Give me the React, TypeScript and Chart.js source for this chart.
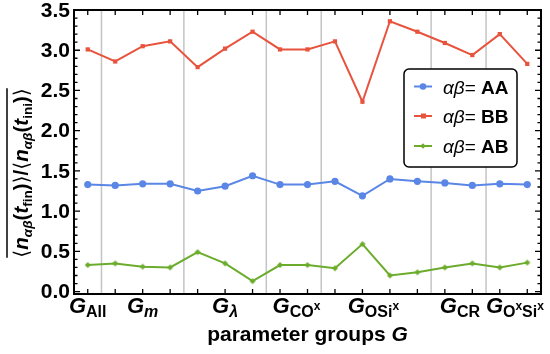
import React, { useEffect, useRef } from "react";
import { Chart, registerables } from "chart.js";

Chart.register(...registerables);

// ---- data ----
const paramIndex = [0, 1, 2, 3, 4, 5, 6, 7, 8, 9, 10, 11, 12, 13, 14, 15, 16];
const seriesAA = [1.33, 1.32, 1.34, 1.34, 1.25, 1.31, 1.44, 1.33, 1.33, 1.37, 1.19, 1.40, 1.37, 1.35, 1.32, 1.34, 1.33];
const seriesBB = [3.01, 2.86, 3.05, 3.11, 2.79, 3.02, 3.23, 3.01, 3.01, 3.11, 2.36, 3.36, 3.23, 3.09, 2.94, 3.20, 2.83];
const seriesAB = [0.33, 0.35, 0.31, 0.30, 0.49, 0.35, 0.13, 0.33, 0.33, 0.29, 0.59, 0.20, 0.24, 0.30, 0.35, 0.30, 0.36];
const groupBoundaries = [0.5, 3.5, 6.5, 8.5, 12.5, 14.5];
const groupCenters = [0, 2, 5, 7.6, 10.4, 13.55, 15.55];
const yTickValues = [0, 0.5, 1, 1.5, 2, 2.5, 3, 3.5];
const yTickLabels = ["0.0", "0.5", "1.0", "1.5", "2.0", "2.5", "3.0", "3.5"];
const legendLabels = ["AA", "BB", "AB"];

const BLUE = "#5a86e6";
const RED = "#e8533e";
const GREEN = "#6cac2c";
const FAM = '"Liberation Sans", Arial, Helvetica, sans-serif';

type Run = { t: string; font: string; dy?: number };

// x tick label runs (G with subscripts / superscripts)
const SUB = `bold 16px ${FAM}`;
const SUBI = `italic bold 16px ${FAM}`;
const SUP = `bold 12px ${FAM}`;
const GF = `italic bold 22px ${FAM}`;
const groupLabelRuns: Run[][] = [
  [{ t: "G", font: GF }, { t: "All", font: SUB, dy: 4 }],
  [{ t: "G", font: GF }, { t: "m", font: SUBI, dy: 4 }],
  [{ t: "G", font: GF }, { t: "λ", font: SUBI, dy: 4 }],
  [{ t: "G", font: GF }, { t: "CO", font: SUB, dy: 4 }, { t: "x", font: SUP, dy: -3 }],
  [{ t: "G", font: GF }, { t: "OSi", font: SUB, dy: 4 }, { t: "x", font: SUP, dy: -3 }],
  [{ t: "G", font: GF }, { t: "CR", font: SUB, dy: 4 }],
  [
    { t: "G", font: GF },
    { t: "O", font: SUB, dy: 4 },
    { t: "x", font: SUP, dy: -3 },
    { t: "Si", font: SUB, dy: 4 },
    { t: "x", font: SUP, dy: -3 },
  ],
];

function runsWidth(ctx: CanvasRenderingContext2D, runs: Run[]) {
  let w = 0;
  for (const r of runs) {
    ctx.font = r.font;
    w += ctx.measureText(r.t).width;
  }
  return w;
}

function drawRuns(ctx: CanvasRenderingContext2D, runs: Run[], x: number, y: number) {
  let cx = x;
  ctx.textAlign = "left";
  ctx.textBaseline = "alphabetic";
  for (const r of runs) {
    ctx.font = r.font;
    ctx.fillText(r.t, cx, y + (r.dy || 0));
    cx += ctx.measureText(r.t).width;
  }
  return cx;
}

const decorPlugin = {
  id: "decor",
  beforeDatasetsDraw(chart: any) {
    const { ctx, chartArea } = chart;
    const xs = chart.scales.x;
    ctx.save();
    ctx.strokeStyle = "#c4c4c4";
    ctx.lineWidth = 1.5;
    for (const b of groupBoundaries) {
      const px = xs.getPixelForValue(b);
      ctx.beginPath();
      ctx.moveTo(px, chartArea.top);
      ctx.lineTo(px, chartArea.bottom);
      ctx.stroke();
    }
    ctx.restore();
  },
  afterDatasetsDraw(chart: any) {
    const { ctx, chartArea } = chart;
    const xs = chart.scales.x;
    const ys = chart.scales.y;
    const { left, right, top, bottom } = chartArea;
    ctx.save();
    ctx.fillStyle = "#000";
    ctx.strokeStyle = "#000";

    // ticks
    ctx.lineWidth = 1.3;
    ctx.beginPath();
    for (const i of paramIndex) {
      const px = xs.getPixelForValue(i);
      ctx.moveTo(px, bottom);
      ctx.lineTo(px, bottom - 5);
      ctx.moveTo(px, top);
      ctx.lineTo(px, top + 5);
    }
    for (let k = 0; k <= 35; k++) {
      const v = k / 10;
      const py = ys.getPixelForValue(v);
      const len = k % 5 === 0 ? 6 : 3.5;
      ctx.moveTo(left, py);
      ctx.lineTo(left + len, py);
      ctx.moveTo(right, py);
      ctx.lineTo(right - len, py);
    }
    ctx.stroke();

    // frame
    ctx.lineWidth = 2;
    ctx.strokeRect(left, top, right - left, bottom - top);

    // y tick labels
    ctx.font = `bold 21px ${FAM}`;
    ctx.textAlign = "right";
    ctx.textBaseline = "middle";
    yTickValues.forEach((v, i) => {
      ctx.fillText(yTickLabels[i], left - 4, ys.getPixelForValue(v) + 1);
    });

    // x tick labels
    groupLabelRuns.forEach((runs, i) => {
      const cx = xs.getPixelForValue(groupCenters[i]);
      const w = runsWidth(ctx, runs);
      drawRuns(ctx, runs, cx - w / 2, bottom + 19);
    });

    // x title
    const xt: Run[] = [
      { t: "parameter groups ", font: `bold 21px ${FAM}` },
      { t: "G", font: `italic bold 21px ${FAM}` },
    ];
    const xw = runsWidth(ctx, xt);
    drawRuns(ctx, xt, (left + right) / 2 - xw / 2, 341);

    // y title (rotated)
    const M = `bold 20.5px ${FAM}`;
    const MI = `italic bold 20.5px ${FAM}`;
    const S = `bold 13.5px ${FAM}`;
    const SI = `italic bold 13.5px ${FAM}`;
    const BR = `20.5px "DejaVu Sans", ${FAM}`;
    const yt: Run[] = [
      { t: "⟨", font: BR },
      { t: "n", font: MI },
      { t: "αβ", font: SI, dy: 4 },
      { t: "(", font: M },
      { t: "t", font: MI },
      { t: "fin", font: S, dy: 4 },
      { t: ")", font: M },
      { t: "⟩", font: BR },
      { t: "/", font: M },
      { t: "⟨", font: BR },
      { t: "n", font: MI },
      { t: "αβ", font: SI, dy: 4 },
      { t: "(", font: M },
      { t: "t", font: MI },
      { t: "ini", font: S, dy: 4 },
      { t: ")", font: M },
      { t: "⟩", font: BR },
    ];
    ctx.save();
    ctx.translate(20, 173);
    ctx.rotate(-Math.PI / 2);
    const yw = runsWidth(ctx, yt);
    drawRuns(ctx, yt, -yw / 2, 8);
    ctx.lineWidth = 1.5;
    ctx.beginPath();
    ctx.moveTo(-yw / 2, -13);
    ctx.lineTo(yw / 2, -13);
    ctx.stroke();
    ctx.restore();

    // legend
    const lx = 404, ly = 69, lw = 113, lh = 98;
    ctx.beginPath();
    ctx.roundRect(lx, ly, lw, lh, 5);
    ctx.fillStyle = "#fff";
    ctx.fill();
    ctx.lineWidth = 1.5;
    ctx.strokeStyle = "#000";
    ctx.stroke();
    const colors = [BLUE, RED, GREEN];
    const rowY = [86.5, 116, 146];
    legendLabels.forEach((lab, i) => {
      const y = rowY[i];
      ctx.strokeStyle = colors[i];
      ctx.fillStyle = colors[i];
      ctx.lineWidth = 2;
      ctx.beginPath();
      ctx.moveTo(414, y);
      ctx.lineTo(432, y);
      ctx.stroke();
      ctx.beginPath();
      if (i === 0) ctx.arc(423, y, 3.3, 0, Math.PI * 2);
      else if (i === 1) ctx.rect(421, y - 2.5, 5, 5);
      else {
        ctx.moveTo(423, y - 2.8);
        ctx.lineTo(425.8, y);
        ctx.lineTo(423, y + 2.8);
        ctx.lineTo(420.2, y);
        ctx.closePath();
      }
      ctx.fill();
      ctx.fillStyle = "#000";
      drawRuns(
        ctx,
        [
          { t: "αβ", font: `italic 19px ${FAM}` },
          { t: "= ", font: `19px ${FAM}` },
          { t: lab, font: `bold 19px ${FAM}` },
        ],
        443,
        y + 7
      );
    });
    ctx.restore();
  },
};

function diamond(): HTMLCanvasElement {
  const c = document.createElement("canvas");
  c.width = 8;
  c.height = 8;
  const g = c.getContext("2d")!;
  g.fillStyle = GREEN;
  g.beginPath();
  g.moveTo(4, 1);
  g.lineTo(7, 4);
  g.lineTo(4, 7);
  g.lineTo(1, 4);
  g.closePath();
  g.fill();
  return c;
}

export default function App() {
  const ref = useRef<HTMLCanvasElement | null>(null);
  useEffect(() => {
    document.body.style.margin = "0";
    const toPts = (arr: number[]) => arr.map((v, i) => ({ x: paramIndex[i], y: v }));
    const chart = new Chart(ref.current!, {
      type: "line",
      data: {
        datasets: [
          {
            label: "AB",
            data: toPts(seriesAB),
            borderColor: GREEN,
            backgroundColor: GREEN,
            borderWidth: 2,
            pointStyle: diamond() as any,
            pointRadius: 3,
          },
          {
            label: "BB",
            data: toPts(seriesBB),
            borderColor: RED,
            backgroundColor: RED,
            borderWidth: 2,
            pointStyle: "rect",
            pointRadius: 3,
            pointBorderWidth: 0,
          },
          {
            label: "AA",
            data: toPts(seriesAA),
            borderColor: BLUE,
            backgroundColor: BLUE,
            borderWidth: 2,
            pointStyle: "circle",
            pointRadius: 3.6,
            pointBorderWidth: 0,
          },
        ],
      },
      options: {
        animation: false,
        responsive: false,
        maintainAspectRatio: false,
        layout: { padding: { left: 74, right: 9, top: 10, bottom: 60 } },
        plugins: { legend: { display: false }, tooltip: { enabled: false } },
        scales: {
          x: { type: "linear", min: -0.5, max: 16.5, display: false },
          y: { type: "linear", min: -0.03, max: 3.5, display: false },
        },
      },
      plugins: [decorPlugin],
    });
    return () => chart.destroy();
  }, []);
  return <canvas ref={ref} width={550} height={354} style={{ display: "block" }} />;
}
